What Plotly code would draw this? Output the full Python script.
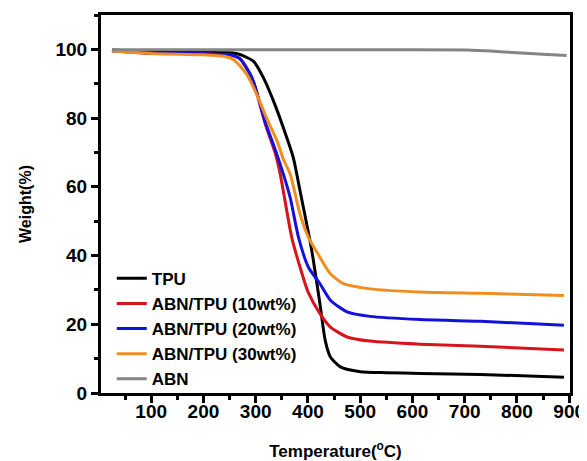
import plotly.graph_objects as go

# ---- data ----
tpu_T = [25, 100, 200, 250, 270, 296, 315, 334, 353, 372, 385, 404, 410, 423, 433, 443, 462, 500, 550, 615, 730, 890]
tpu_W = [99.8, 99.3, 99.2, 99.0, 98.5, 96.5, 91.7, 85, 77.2, 68.5, 58.8, 44.3, 39, 26, 15.4, 10.5, 7.6, 6.2, 5.9, 5.7, 5.4, 4.6]

abn10_T = [25, 100, 200, 250, 270, 290, 299, 318, 337, 347, 369, 385, 400, 423, 443, 475, 519, 615, 730, 890]
abn10_W = [99.6, 98.9, 98.7, 98.4, 97.2, 92.5, 89, 78.5, 70, 63.7, 45.3, 36.6, 29.5, 23.1, 19.2, 16.3, 15.1, 14.2, 13.6, 12.5]

abn20_T = [25, 100, 200, 250, 270, 290, 299, 318, 337, 353, 366, 382, 401, 423, 443, 475, 519, 615, 730, 890]
abn20_W = [99.6, 98.9, 98.7, 98.4, 97.3, 92.7, 89.2, 79, 71, 63.7, 56.9, 45.3, 36.6, 31.8, 27, 23.6, 22.3, 21.4, 20.9, 19.7]

abn30_T = [25, 100, 200, 240, 258, 283, 302, 321, 341, 353, 366, 385, 401, 423, 443, 468, 519, 615, 730, 890]
abn30_W = [99.5, 98.8, 98.4, 98.0, 97, 92.7, 86.9, 80, 73.3, 68, 63.7, 52, 45.3, 39.5, 34.7, 31.8, 30.3, 29.4, 29, 28.4]

abn_T = [25, 100, 300, 500, 704, 750, 800, 850, 895]
abn_W = [99.9, 99.9, 99.9, 99.9, 99.8, 99.5, 99.0, 98.6, 98.2]

series = [
    ("TPU", tpu_T, tpu_W, "#000000"),
    ("ABN/TPU (10wt%)", abn10_T, abn10_W, "#d7141c"),
    ("ABN/TPU (20wt%)", abn20_T, abn20_W, "#1212dc"),
    ("ABN/TPU (30wt%)", abn30_T, abn30_W, "#f28e1f"),
    ("ABN", abn_T, abn_W, "#858585"),
]

x_ticks = [100, 200, 300, 400, 500, 600, 700, 800, 900]
y_ticks = [0, 20, 40, 60, 80, 100]

FONT = "Arial, 'Liberation Sans', sans-serif"

fig = go.Figure()
for name, T, W, c in series:
    fig.add_trace(go.Scatter(x=T, y=W, mode="lines", name=name,
                             line=dict(color=c, width=3, shape="spline", smoothing=0.6)))

axis_common = dict(
    showline=True, linewidth=3, linecolor="black", mirror=True,
    ticks="outside", tickwidth=2.5, ticklen=7, tickcolor="black",
    showgrid=False, zeroline=False, automargin=False,
    tickfont=dict(family=FONT, size=19, color="black", weight="bold"),
)

fig.update_xaxes(**axis_common, range=[4, 901.6], tickvals=x_ticks, ticklabelstandoff=-8,
                 minor=dict(ticks="outside", ticklen=4, tickwidth=2.5, tickcolor="black", dtick=50, tick0=0),
                 title=dict(text="Temperature(<sup>o</sup>C)", font=dict(family=FONT, size=17, color="black", weight="bold"),
                            standoff=27))
fig.update_yaxes(**axis_common, range=[0, 110], tickvals=y_ticks,
                 minor=dict(ticks="outside", ticklen=4, tickwidth=2.5, tickcolor="black", dtick=10, tick0=0),
                 title=dict(text="Weight(%)", font=dict(family=FONT, size=16, color="black", weight="bold"),
                            standoff=20))

# page body adds an 8px offset; figure sized to fill the rest of the window
fig.update_layout(
    width=579, height=453,
    margin=dict(l=93, r=17, t=7, b=68),
    plot_bgcolor="white", paper_bgcolor="white",
    legend=dict(x=0.023, y=-0.01, xanchor="left", yanchor="bottom",
                bgcolor="rgba(0,0,0,0)", tracegroupgap=0,
                font=dict(family=FONT, size=17, color="black", weight="bold")),
)

fig.write_html("out.html")
